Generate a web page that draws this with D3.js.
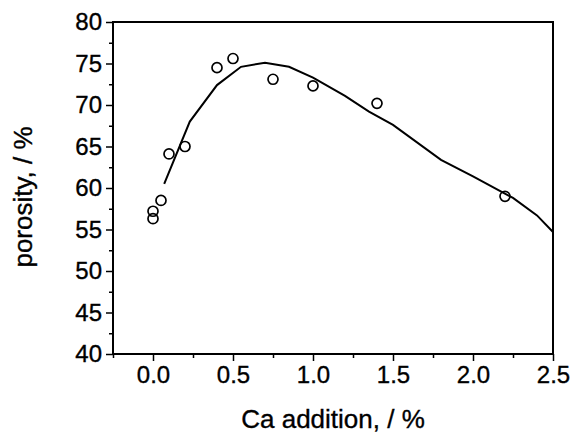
<!DOCTYPE html>
<html>
<head>
<meta charset="utf-8">
<script src="https://cdn.jsdelivr.net/npm/d3@7"></script>
<style>
  body { margin: 0; background: #fff; }
  text { font-family: "Liberation Sans", Arial, sans-serif; fill: #000; stroke: #000; stroke-width: 0.35px; }
</style>
</head>
<body>
<div id="chart"></div>
<script>
// measured points
var caX = [0, 0, 0.05, 0.1, 0.2, 0.4, 0.5, 0.75, 1.0, 1.4, 2.2];
var porY = [56.3, 57.2, 58.5, 64.1, 65.0, 74.5, 75.6, 73.1, 72.3, 70.2, 59.0];

// fitted curve
var fitX = [0.07, 0.23, 0.4, 0.55, 0.7, 0.85, 1.0, 1.2, 1.35, 1.5, 1.8, 2.0, 2.25, 2.4, 2.5];
var fitY = [60.5, 68.0, 72.4, 74.6, 75.1, 74.6, 73.3, 71.1, 69.2, 67.6, 63.4, 61.4, 58.8, 56.7, 54.7];

var xTicks = [0.0, 0.5, 1.0, 1.5, 2.0, 2.5];
var yTicks = [40, 45, 50, 55, 60, 65, 70, 75, 80];

var W = 572, H = 434;
var margin = {top: 22, right: 19, bottom: 80, left: 113};
var width = W - margin.left - margin.right;
var height = H - margin.top - margin.bottom;

var svg = d3.select("#chart").append("svg")
  .attr("width", W).attr("height", H)
  .append("g")
  .attr("transform", "translate(" + margin.left + "," + margin.top + ")");

var x = d3.scaleLinear().domain([-0.25, 2.5]).range([0, width]);
var y = d3.scaleLinear().domain([40, 80]).range([height, 0]);

// minor ticks
svg.append("g")
  .attr("transform", "translate(0," + height + ")")
  .call(d3.axisBottom(x).tickValues(d3.range(-0.25, 2.5, 0.5)).tickSize(4).tickFormat(""))
  .call(g => g.select(".domain").remove())
  .selectAll("line").attr("stroke-width", 1.5);
svg.append("g")
  .call(d3.axisLeft(y).tickValues(d3.range(42.5, 80, 5)).tickSize(4).tickFormat(""))
  .call(g => g.select(".domain").remove())
  .selectAll("line").attr("stroke-width", 1.5);

// major ticks
var xAxis = svg.append("g")
  .attr("transform", "translate(0," + height + ")")
  .call(d3.axisBottom(x).tickValues(xTicks).tickSize(7).tickPadding(5).tickFormat(d3.format(".1f")));
xAxis.select(".domain").remove();
xAxis.selectAll("line").attr("stroke-width", 1.5);
xAxis.selectAll("text").attr("font-size", 24).attr("fill", "#000");

var yAxis = svg.append("g")
  .call(d3.axisLeft(y).tickValues(yTicks).tickSize(7).tickPadding(4));
yAxis.select(".domain").remove();
yAxis.selectAll("line").attr("stroke-width", 1.5);
yAxis.selectAll("text").attr("font-size", 24).attr("fill", "#000");

// frame
svg.append("rect")
  .attr("x", 0).attr("y", 0)
  .attr("width", width).attr("height", height)
  .attr("fill", "none").attr("stroke", "#000").attr("stroke-width", 2);

// fit line
var fit = fitX.map((v, i) => [v, fitY[i]]);
svg.append("path")
  .datum(fit)
  .attr("fill", "none")
  .attr("stroke", "#000")
  .attr("stroke-width", 2)
  .attr("d", d3.line().x(d => x(d[0])).y(d => y(d[1])));

// points
svg.selectAll("circle.pt")
  .data(caX.map((v, i) => [v, porY[i]]))
  .enter().append("circle")
  .attr("class", "pt")
  .attr("cx", d => x(d[0]))
  .attr("cy", d => y(d[1]))
  .attr("r", 5)
  .attr("fill", "none")
  .attr("stroke", "#000")
  .attr("stroke-width", 1.7);

// titles
svg.append("text")
  .attr("x", width / 2)
  .attr("y", height + 74)
  .attr("text-anchor", "middle")
  .attr("font-size", 26)
  .text("Ca addition, / %");

svg.append("text")
  .attr("transform", "rotate(-90)")
  .attr("x", -(197 - margin.top))
  .attr("y", -81)
  .attr("text-anchor", "middle")
  .attr("font-size", 26)
  .text("porosity, / %");
</script>
</body>
</html>
